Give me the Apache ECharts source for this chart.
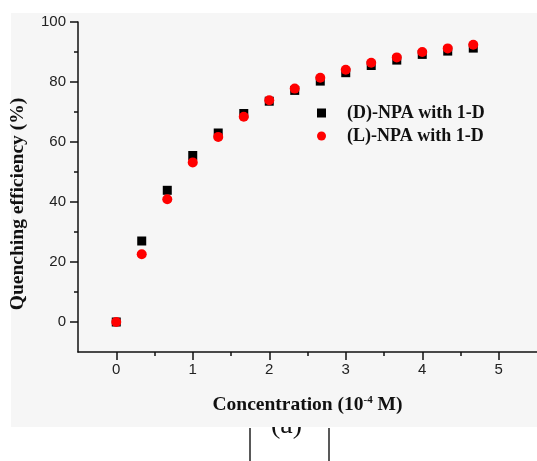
<!DOCTYPE html>
<html><head><meta charset="utf-8">
<script src="https://cdn.jsdelivr.net/npm/echarts@6/dist/echarts.min.js"></script>
<style>html,body{margin:0;padding:0;background:#fff}#c{width:537px;height:461px}</style>
</head><body><div id="c"></div>
<script>
const concentration = [0, 0.333, 0.667, 1, 1.333, 1.667, 2, 2.333, 2.667, 3, 3.333, 3.667, 4, 4.333, 4.667];
const dNPA = [0, 27.0, 43.9, 55.5, 63.0, 69.5, 73.6, 77.2, 80.3, 83.1, 85.5, 87.3, 89.2, 90.3, 91.3];
const lNPA = [0, 22.6, 40.9, 53.2, 61.7, 68.4, 73.9, 77.8, 81.4, 84.1, 86.4, 88.2, 90.0, 91.2, 92.4];
const seriesNames = ['(D)-NPA with 1-D', '(L)-NPA with 1-D'];
const xTicks = [0, 1, 2, 3, 4, 5];
const yTicks = [0, 20, 40, 60, 80, 100];
const xTitle = 'Concentration (10{sup|-4} M)';
const yTitle = 'Quenching efficiency (%)';
const panelLabel = '(a)';

const serif = '"Liberation Serif", "Times New Roman", serif';
const sans = '"Liberation Sans", Arial, sans-serif';

const chart = echarts.init(document.getElementById('c'), null, {renderer: 'canvas'});
const pair = (xs, ys) => xs.map((x, i) => [x, ys[i]]);

chart.setOption({
  animation: false,
  backgroundColor: '#ffffff',
  graphic: [
    {type: 'text', z: -20, left: 271, top: 412,
     style: {text: panelLabel, font: '28px ' + serif, fill: '#111'}},
    {type: 'rect', z: -10, shape: {x: 11, y: 13, width: 526, height: 414},
     style: {fill: '#f6f6f6'}},
    {type: 'line', z: -5, shape: {x1: 250, y1: 428, x2: 250, y2: 461}, style: {stroke: '#222', lineWidth: 1.5}},
    {type: 'line', z: -5, shape: {x1: 329, y1: 428, x2: 329, y2: 461}, style: {stroke: '#222', lineWidth: 1.5}}
  ],
  grid: {left: 78, right: 0, top: 22, bottom: 109, containLabel: false},
  legend: {
    orient: 'vertical', left: 317, top: 104, padding: 0, itemGap: 5,
    itemWidth: 9, itemHeight: 9,
    data: [{name: seriesNames[0], icon: 'rect'}, {name: seriesNames[1], icon: 'circle'}],
    textStyle: {fontFamily: serif, fontWeight: 'bold', fontSize: 18, color: '#111', lineHeight: 18, padding: [0, 0, 0, 16]}
  },
  xAxis: {
    type: 'value', min: -0.5, max: 5.5,
    name: xTitle, nameLocation: 'middle', nameGap: 43,
    nameTextStyle: {fontFamily: serif, fontWeight: 'bold', fontSize: 19.5, color: '#111',
      rich: {sup: {fontFamily: serif, fontWeight: 'bold', fontSize: 11, color: '#111', verticalAlign: 'top', padding: [0, 0, 8, 0]}}},
    axisLine: {onZero: false, lineStyle: {color: '#111', width: 1.5}},
    axisTick: {length: 8, customValues: xTicks, lineStyle: {color: '#111', width: 1.5}},
    minorTick: {show: true, splitNumber: 2, length: 4, lineStyle: {color: '#111', width: 1.5}},
    splitLine: {show: false},
    axisLabel: {margin: 10, fontFamily: sans, fontSize: 15, color: '#222', customValues: xTicks}
  },
  yAxis: {
    type: 'value', min: -10, max: 100,
    name: yTitle, nameLocation: 'middle', nameGap: 50,
    nameTextStyle: {fontFamily: serif, fontWeight: 'bold', fontSize: 19.5, color: '#111', padding: [0, 34, 0, 0]},
    axisLine: {onZero: false, lineStyle: {color: '#111', width: 1.5}},
    axisTick: {length: 8, customValues: yTicks, lineStyle: {color: '#111', width: 1.5}},
    minorTick: {show: true, splitNumber: 2, length: 4, lineStyle: {color: '#111', width: 1.5}},
    splitLine: {show: false},
    axisLabel: {margin: 12, fontFamily: sans, fontSize: 15, color: '#222', customValues: yTicks}
  },
  series: [
    {name: seriesNames[0], type: 'scatter', symbol: 'rect', symbolSize: 9,
     itemStyle: {color: '#000000', opacity: 1}, data: pair(concentration, dNPA)},
    {name: seriesNames[1], type: 'scatter', symbol: 'circle', symbolSize: 10,
     itemStyle: {color: '#ff0000', opacity: 1}, data: pair(concentration, lNPA)}
  ]
});
</script></body></html>
